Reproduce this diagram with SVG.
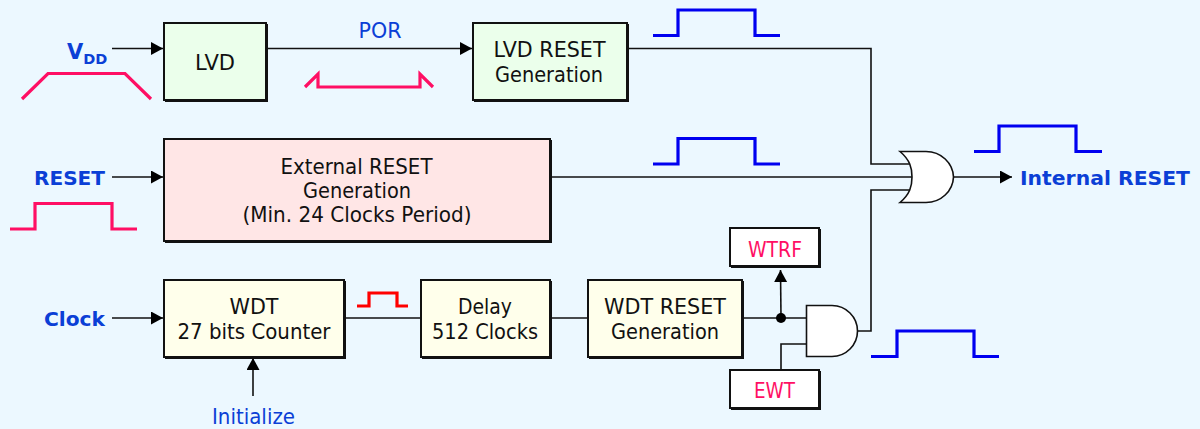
<svg xmlns="http://www.w3.org/2000/svg" width="1200" height="429" viewBox="0 0 1200 429">
<style>
text{font-family:"DejaVu Sans",sans-serif;font-size:20.5px;text-anchor:middle;fill:#111}
.l{fill:#0b3fd6}
.b{font-size:20px;font-weight:bold;fill:#0b3fd6}
.p{fill:#ff0f64}
.box{stroke:#111;stroke-width:2}
.sh{fill:none;stroke:#111;stroke-width:3}
.w{fill:none;stroke:#111;stroke-width:1.6}
.gate{fill:#fff;stroke:#111;stroke-width:1.6}
.bl{fill:none;stroke:#0000f0;stroke-width:3.2}
.rd{fill:none;stroke:#ff0f64;stroke-width:3.2}
.rr{fill:none;stroke:#ff0000;stroke-width:3.2}
</style>
<defs>
<marker id="a" markerUnits="userSpaceOnUse" markerWidth="13" markerHeight="14" refX="12" refY="6.5" orient="auto"><path d="M0 0L12 6.5L0 13Z" fill="#000"/></marker>
</defs>
<rect width="1200" height="429" fill="#ecf8ff"/>
<g id="connectors">
<path class="w" d="M112 48.500H163" marker-end="url(#a)"/>
<path class="w" d="M268 48.500H472" marker-end="url(#a)"/>
<path class="w" d="M628 48.500H871V164H910"/>
<path class="w" d="M112 177H163" marker-end="url(#a)"/>
<path class="w" d="M552 177H912"/>
<path class="w" d="M112 318H163" marker-end="url(#a)"/>
<path class="w" d="M253 396V358" marker-end="url(#a)"/>
<path class="w" d="M345 318H421"/>
<path class="w" d="M552 318H588"/>
<path class="w" d="M744 318H806"/>
<path class="w" d="M781 318L780.500 270" marker-end="url(#a)"/>
<circle cx="781" cy="318" r="5" fill="#000"/>
<path class="w" d="M781 370V344H806"/>
<path class="w" d="M858 331H871V190H910"/>
<path class="w" d="M953 177H1012" marker-end="url(#a)"/>
</g>
<g id="lvd"><rect class="box" x="164" y="23" width="102" height="77" fill="#ebffeb"/><path class="sh" d="M266.500 24V100.500H165"/><text x="215" y="70" textLength="40" lengthAdjust="spacingAndGlyphs">LVD</text></g>
<g id="lvd-reset"><rect class="box" x="473" y="23" width="154" height="77" fill="#ebffeb"/><path class="sh" d="M627.500 24V100.500H474"/><text x="549.500" y="57" textLength="112" lengthAdjust="spacingAndGlyphs">LVD RESET</text><text x="549" y="82" textLength="108" lengthAdjust="spacingAndGlyphs">Generation</text></g>
<g id="external-reset"><rect class="box" x="164" y="139" width="386" height="102" fill="#ffe6e6"/><path class="sh" d="M550.500 140V241.500H165"/><text x="356.500" y="174" textLength="152" lengthAdjust="spacingAndGlyphs">External RESET</text><text x="357" y="198" textLength="108" lengthAdjust="spacingAndGlyphs">Generation</text><text x="357" y="222" textLength="229" lengthAdjust="spacingAndGlyphs">(Min. 24 Clocks Period)</text></g>
<g id="wdt"><rect class="box" x="164" y="280" width="180" height="77" fill="#ffffeb"/><path class="sh" d="M344.500 281V357.500H165"/><text x="254" y="314" textLength="49" lengthAdjust="spacingAndGlyphs">WDT</text><text x="254" y="339" textLength="153" lengthAdjust="spacingAndGlyphs">27 bits Counter</text></g>
<g id="delay"><rect class="box" x="421" y="280" width="129" height="77" fill="#ffffeb"/><path class="sh" d="M550.500 281V357.500H422"/><text x="485" y="314" textLength="54" lengthAdjust="spacingAndGlyphs">Delay</text><text x="485" y="339" textLength="106" lengthAdjust="spacingAndGlyphs">512 Clocks</text></g>
<g id="wdt-reset"><rect class="box" x="588" y="280" width="154" height="77" fill="#ffffeb"/><path class="sh" d="M742.500 281V357.500H589"/><text x="665" y="314" textLength="122" lengthAdjust="spacingAndGlyphs">WDT RESET</text><text x="665" y="339" textLength="108" lengthAdjust="spacingAndGlyphs">Generation</text></g>
<g id="wtrf"><rect class="box" x="730" y="228" width="89" height="38" fill="#fff"/><path class="sh" d="M819.500 229V266.500H731"/><text class="p" x="775" y="257" textLength="54" lengthAdjust="spacingAndGlyphs">WTRF</text></g>
<g id="ewt"><rect class="box" x="730" y="370" width="89" height="38" fill="#fff"/><path class="sh" d="M819.500 371V408.500H731"/><text class="p" x="774.500" y="398" textLength="41" lengthAdjust="spacingAndGlyphs">EWT</text></g>
<g id="or-gate"><path class="gate" d="M900 151.500H926C941 151.500 953 163 953.500 177C953 191 941 202.500 926 202.500H900C910 194 912 186 912 177C912 168 910 160 900 151.500Z"/></g>
<g id="and-gate"><path class="gate" d="M806.500 305.500H832C846 305.500 857.500 317 857.500 331C857.500 345 846 356.500 832 356.500H806.500Z"/></g>
<g id="signals">
<path class="rd" d="M22 99L48 73.500H125L151 99"/>
<path class="rd" d="M305 87L318 74V87H420V74L433 87"/>
<path class="bl" d="M653 35.500H678V10H755V35.500H780"/>
<path class="bl" d="M653 164H678V138.500H755V164H780"/>
<path class="bl" d="M974 151.500H999V126H1076V151.500H1102"/>
<path class="bl" d="M871 356.500H897V331H974V356.500H999"/>
<path class="rd" d="M10 229H35V203.500H112V229H137"/>
<path class="rr" d="M357 306H369V293H397V306H408"/>
</g>
<g id="labels">
<text class="b" x="67" y="59" style="font-size:21px;text-anchor:start">V<tspan dy="5" font-size="14.500">DD</tspan></text>
<text class="l" x="380" y="38" textLength="43" lengthAdjust="spacingAndGlyphs">POR</text>
<text class="b" x="69.500" y="185" textLength="71" lengthAdjust="spacingAndGlyphs">RESET</text>
<text class="b" x="74.500" y="326" textLength="61" lengthAdjust="spacingAndGlyphs">Clock</text>
<text class="l" x="253.500" y="424" textLength="83" lengthAdjust="spacingAndGlyphs">Initialize</text>
<text class="b" x="1105" y="185" textLength="170" lengthAdjust="spacingAndGlyphs">Internal RESET</text>
</g>
</svg>
